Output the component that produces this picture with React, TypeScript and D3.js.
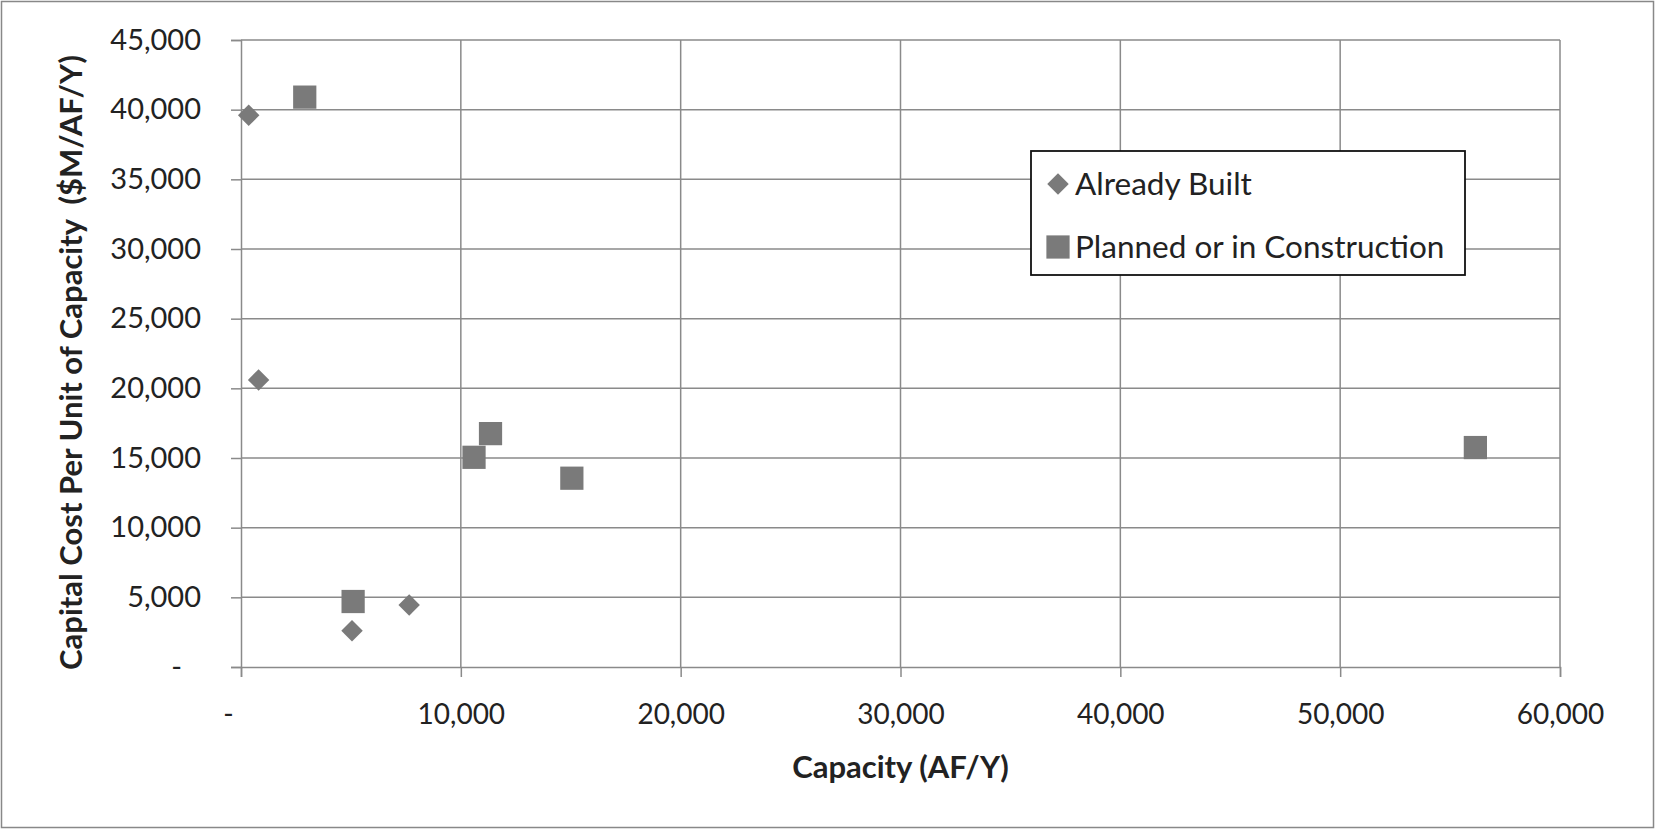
import { axisBottom, axisLeft, format, scaleLinear, select, symbol, symbolSquare } from "d3";
import React, { useEffect, useRef } from "react";

// Already Built
const builtCapacity = [350, 800, 5050, 7650];
const builtCost = [39600, 20600, 2600, 4450];

// Planned or in Construction
const plannedCapacity = [2900, 5100, 10600, 11350, 15050, 56150];
const plannedCost = [40900, 4700, 15050, 16750, 13550, 15750];

const xTicks = [0, 10000, 20000, 30000, 40000, 50000, 60000];
const yTicks = [0, 5000, 10000, 15000, 20000, 25000, 30000, 35000, 40000, 45000];
const seriesNames = ["Already Built", "Planned or in Construction"];

const xTitle = "Capacity (AF/Y)";
const yTitle = "Capital Cost Per Unit of Capacity  ($M/AF/Y)";

const App: React.FC = () => {
    const svgRef = useRef<SVGSVGElement>(null);

    useEffect(() => {
        if (svgRef.current) {
            svgRef.current.innerHTML = "";
        }

        const width = 1655,
            height = 829;
        const margin = { top: 40, right: 95, bottom: 162, left: 241 };
        const innerW = width - margin.left - margin.right,
            innerH = height - margin.top - margin.bottom;

        const font = "Lato, 'Open Sans', sans-serif";
        const gridColor = "#8a8a8a";
        const markColor = "#7a7a7a";
        const fmt = format(",");

        const xScale = scaleLinear().domain([0, 60000]).range([0, innerW]);
        const yScale = scaleLinear().domain([0, 45000]).range([innerH, 0]);

        const svg = select(svgRef.current)
            .attr("width", width)
            .attr("height", height);

        svg.append("rect")
            .attr("x", 1.5)
            .attr("y", 1.5)
            .attr("width", width - 3)
            .attr("height", height - 3)
            .attr("fill", "#fff")
            .attr("stroke", "#888")
            .attr("stroke-width", 1.5);

        const g = svg
            .append("g")
            .attr("transform", "translate(" + margin.left + "," + margin.top + ")");

        // y axis
        g.append("g")
            .call(
                axisLeft(yScale)
                    .tickValues(yTicks)
                    .tickSize(10)
                    .tickPadding(30)
                    .tickFormat(d => ((d as number) === 0 ? "-" : fmt(d as number))),
            )
            .call(a => a.select(".domain").attr("stroke", gridColor).attr("stroke-width", 1.5))
            .call(a => a.selectAll(".tick line").attr("stroke", gridColor).attr("stroke-width", 1.5))
            .call(a =>
                a
                    .selectAll(".tick text")
                    .attr("fill", "#222")
                    .attr("font-family", font)
                    .attr("font-size", 29)
                    .attr("dx", (d: any) => (d === 0 ? -19 : 0)),
            );

        // grid
        g.append("g")
            .selectAll("line")
            .data(yTicks.filter(d => d > 0))
            .enter()
            .append("line")
            .attr("x1", 0)
            .attr("x2", innerW)
            .attr("y1", d => yScale(d))
            .attr("y2", d => yScale(d))
            .attr("stroke", gridColor)
            .attr("stroke-width", 1.5);

        g.append("g")
            .selectAll("line")
            .data(xTicks.filter(d => d > 0))
            .enter()
            .append("line")
            .attr("x1", d => xScale(d))
            .attr("x2", d => xScale(d))
            .attr("y1", 0)
            .attr("y2", innerH)
            .attr("stroke", gridColor)
            .attr("stroke-width", 1.5);

        // x axis
        g.append("g")
            .attr("transform", "translate(0," + innerH + ")")
            .call(
                axisBottom(xScale)
                    .tickValues(xTicks)
                    .tickSize(10)
                    .tickPadding(27)
                    .tickFormat(d => ((d as number) === 0 ? "-" : fmt(d as number))),
            )
            .call(a => a.select(".domain").attr("stroke", gridColor).attr("stroke-width", 1.5))
            .call(a => a.selectAll(".tick line").attr("stroke", gridColor).attr("stroke-width", 1.5))
            .call(a =>
                a
                    .selectAll(".tick text")
                    .attr("fill", "#222")
                    .attr("font-family", font)
                    .attr("font-size", 28)
                    .attr("dx", (d: any) => (d === 0 ? -13 : 0)),
            );

        // axis titles
        svg.append("text")
            .attr("x", margin.left + xScale(30000))
            .attr("y", 778)
            .attr("text-anchor", "middle")
            .attr("font-family", font)
            .attr("font-weight", "bold")
            .attr("font-size", 31)
            .attr("fill", "#222")
            .text(xTitle);

        svg.append("text")
            .attr("transform", "translate(82," + (margin.top + innerH / 2 + 9) + ") rotate(-90)")
            .attr("text-anchor", "middle")
            .attr("font-family", font)
            .attr("font-weight", "bold")
            .attr("font-size", 31)
            .attr("fill", "#222")
            .style("white-space", "pre")
            .text(yTitle);

        const diamond = symbol().type(symbolSquare).size(230);
        const square = symbol().type(symbolSquare).size(540);

        g.selectAll(".built")
            .data(builtCapacity)
            .enter()
            .append("path")
            .attr("class", "built")
            .attr("d", diamond() as string)
            .attr(
                "transform",
                (d, i) => "translate(" + xScale(d) + "," + yScale(builtCost[i]) + ") rotate(45)",
            )
            .attr("fill", markColor);

        g.selectAll(".planned")
            .data(plannedCapacity)
            .enter()
            .append("path")
            .attr("class", "planned")
            .attr("d", square() as string)
            .attr("transform", (d, i) => "translate(" + xScale(d) + "," + yScale(plannedCost[i]) + ")")
            .attr("fill", markColor);

        // legend
        const legend = svg.append("g").attr("transform", "translate(1031,151)");
        legend
            .append("rect")
            .attr("width", 434)
            .attr("height", 124)
            .attr("fill", "#fff")
            .attr("stroke", "#111")
            .attr("stroke-width", 1.8);

        const items = legend
            .selectAll(".item")
            .data(seriesNames)
            .enter()
            .append("g")
            .attr("transform", (d, i) => "translate(0," + (33 + i * 63) + ")");

        items
            .append("path")
            .attr("d", (d, i) => (i === 0 ? diamond : square)() as string)
            .attr("transform", (d, i) => "translate(27,0)" + (i === 0 ? " rotate(45)" : ""))
            .attr("fill", markColor);

        items
            .append("text")
            .attr("x", 44)
            .attr("dy", "0.36em")
            .attr("font-family", font)
            .attr("font-size", 31.5)
            .attr("fill", "#222")
            .text(d => d);
    }, []);

    return (
        <div style={{ position: "absolute", left: 0, top: 0 }}>
            <svg ref={svgRef}></svg>
        </div>
    );
};

export default App;
